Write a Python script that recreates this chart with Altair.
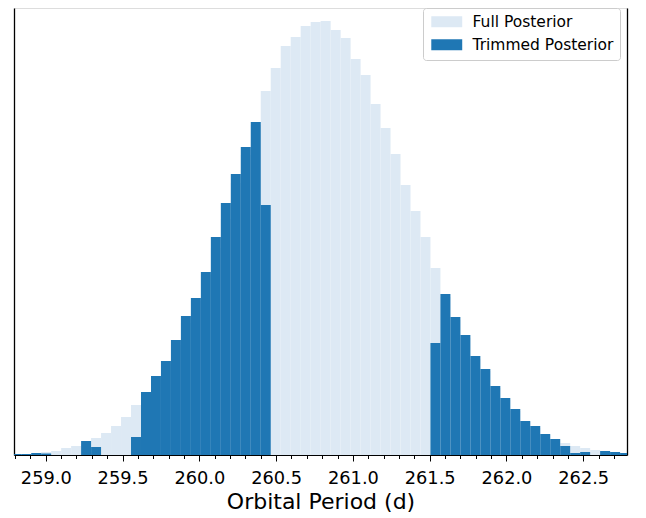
import altair as alt
import pandas as pd

# Histogram bin edges (days)
bin_edges = [258.775, 258.840, 258.905, 258.970, 259.035, 259.100, 259.165, 259.230,
             259.295, 259.360, 259.425, 259.490, 259.555, 259.620, 259.685, 259.750,
             259.815, 259.880, 259.945, 260.010, 260.075, 260.140, 260.205, 260.270,
             260.335, 260.400, 260.465, 260.530, 260.595, 260.660, 260.725, 260.790,
             260.855, 260.920, 260.985, 261.050, 261.115, 261.180, 261.245, 261.310,
             261.375, 261.440, 261.505, 261.570, 261.635, 261.700, 261.765, 261.830,
             261.895, 261.960, 262.025, 262.090, 262.155, 262.220, 262.285, 262.350,
             262.415, 262.480, 262.545, 262.610, 262.675, 262.740, 262.805]

# Bar heights (arbitrary density units)
full_heights = [0.5, 1, 1.5, 3, 4, 7, 9, 11, 17, 22, 29, 38, 50, 60, 75, 91,
                110, 132, 154, 180, 207, 236, 272, 300, 330, 364, 387, 409, 418, 429, 433, 434,
                425, 417, 396, 380, 351, 327, 301, 270, 244, 218, 187, 158, 135, 117,
                96, 84, 67, 55, 44, 33, 27, 20, 15, 12, 9, 7, 5, 4, 3, 2]
trimmed_heights = [1, 1, 2, 1.5, 0, 0, 0, 14, 8, 0, 0, 0, 18, 63, 79, 94,
                   115, 139, 157, 183, 218, 252, 281, 308, 333, 250, 0, 0, 0, 0, 0, 0,
                   0, 0, 0, 0, 0, 0, 0, 0, 0, 0, 112, 161, 138, 120,
                   99, 86, 69, 57, 46, 34, 29, 21, 16, 9, 2, 3, 0, 4, 3, 2]

series_names = ["Full Posterior", "Trimmed Posterior"]
series_colors = ["#dde9f4", "#1f77b4"]

major_ticks = [259.0, 259.5, 260.0, 260.5, 261.0, 261.5, 262.0, 262.5]
minor_ticks = [258.8, 258.9, 259.0, 259.1, 259.2, 259.3, 259.4, 259.5, 259.6, 259.7,
               259.8, 259.9, 260.0, 260.1, 260.2, 260.3, 260.4, 260.5, 260.6, 260.7,
               260.8, 260.9, 261.0, 261.1, 261.2, 261.3, 261.4, 261.5, 261.6, 261.7,
               261.8, 261.9, 262.0, 262.1, 262.2, 262.3, 262.4, 262.5, 262.6, 262.7]
x_limits = [258.793, 262.785]
y_limits = [0, 447]

full_df = pd.DataFrame({"lo": bin_edges[:-1], "hi": bin_edges[1:],
                        "h": full_heights, "series": series_names[0]})
trim_df = pd.DataFrame({"lo": bin_edges[:-1], "hi": bin_edges[1:],
                        "h": trimmed_heights, "series": series_names[1]})

legend = alt.Legend(
    title=None, orient="none", legendX=409, legendY=0,
    padding=6, strokeColor="#cccccc", cornerRadius=3, fillColor="white",
    labelFont="DejaVu Sans", labelFontSize=15.5, labelColor="black",
    symbolType="M-2.38,-0.846L2.38,-0.846L2.38,0.846L-2.38,0.846Z", symbolSize=169,
    symbolStrokeWidth=0, symbolOpacity=1, rowPadding=6, labelOffset=18,
    symbolOffset=10,
)
color = alt.Color("series:N", scale=alt.Scale(domain=series_names, range=series_colors),
                  legend=legend)

xscale = alt.Scale(domain=x_limits, nice=False, zero=False)
yscale = alt.Scale(domain=y_limits, nice=False, zero=True)

light = alt.Chart(full_df).mark_rect(clip=True).encode(
    x=alt.X("lo:Q", scale=xscale, axis=alt.Axis(
        values=major_ticks, format=".1f", tickSize=6, tickWidth=1, tickColor="black",
        labelFontSize=17.8, labelColor="black", labelPadding=8, labelFont="DejaVu Sans",
        title="Orbital Period (d)", titleFontSize=22, titleFontWeight="normal",
        titleColor="black", titleFont="DejaVu Sans", titlePadding=5,
        grid=False, domainColor="black", domainWidth=1.2, orient="bottom")),
    x2="hi:Q",
    y=alt.Y("h:Q", scale=yscale, axis=alt.Axis(
        labels=False, ticks=False, title=None, grid=False,
        domainColor="black", domainWidth=1.3, orient="left")),
    y2=alt.datum(0),
    color=color,
)

dark = alt.Chart(trim_df).mark_rect(clip=True).encode(
    x=alt.X("lo:Q", scale=xscale, axis=alt.Axis(
        values=minor_ticks, tickSize=3.5, tickWidth=1, tickColor="black",
        labels=False, domain=False, title=None, grid=False, orient="bottom")),
    x2="hi:Q",
    y=alt.Y("h:Q", scale=yscale, axis=alt.Axis(
        labels=False, ticks=False, title=None, grid=False,
        domainColor="black", domainWidth=1.3, orient="right")),
    y2=alt.datum(0),
    color=color,
)

chart = alt.layer(light, dark).resolve_axis(
    x="independent", y="independent"
).properties(
    width=613, height=447,
    autosize=alt.AutoSizeParams(type="none"),
    padding={"left": 6, "top": 0, "right": 5, "bottom": 60},
).configure_view(stroke=None).configure(font="DejaVu Sans")

chart.save("out.html", embed_options={"renderer": "svg", "actions": False})
